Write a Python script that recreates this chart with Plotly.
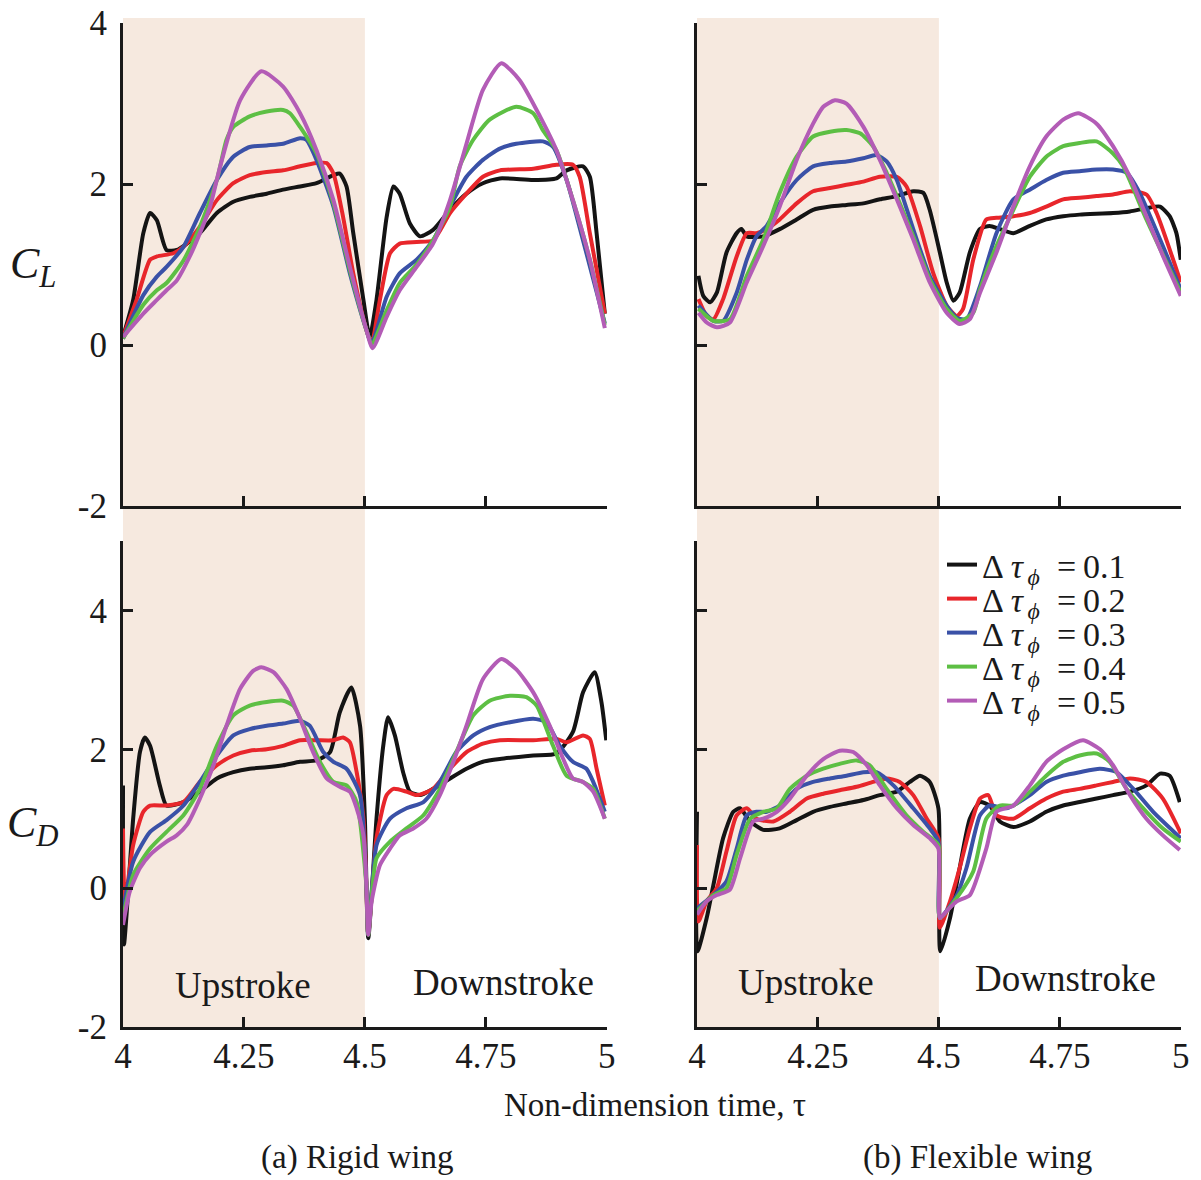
import plotly.graph_objects as go

# ---------------- DATA ----------------
dtau_labels = ["0.1", "0.2", "0.3", "0.4", "0.5"]
x_tickvals = [4, 4.25, 4.5, 4.75, 5]
x_ticktext = ["4", "4.25", "4.5", "4.75", "5"]
y_tickvals = [-2, 0, 2, 4]
y_ticktext = ["-2", "0", "2", "4"]

# (a) Rigid wing, lift coefficient C_L
clr_t1 = [4.0, 4.021, 4.042, 4.056, 4.070, 4.090, 4.111, 4.132, 4.159, 4.194, 4.228, 4.262, 4.297, 4.331, 4.366, 4.400, 4.435, 4.448, 4.462, 4.476, 4.497, 4.510, 4.524, 4.545, 4.559, 4.572, 4.593, 4.614, 4.641, 4.676, 4.710, 4.744, 4.779, 4.848, 4.896, 4.917, 4.951, 4.965, 4.979, 4.996]
clr_v1 = [0.10, 0.56, 1.39, 1.64, 1.55, 1.18, 1.18, 1.26, 1.39, 1.64, 1.78, 1.84, 1.88, 1.93, 1.97, 2.01, 2.11, 2.13, 1.97, 1.39, 0.56, 0.10, 0.56, 1.59, 1.97, 1.88, 1.51, 1.35, 1.43, 1.68, 1.88, 2.01, 2.07, 2.05, 2.07, 2.17, 2.22, 2.09, 1.39, 0.39]
clr_t2 = [4.0, 4.028, 4.056, 4.070, 4.104, 4.125, 4.159, 4.194, 4.228, 4.262, 4.297, 4.331, 4.366, 4.400, 4.421, 4.435, 4.455, 4.476, 4.503, 4.514, 4.531, 4.552, 4.572, 4.607, 4.641, 4.676, 4.710, 4.744, 4.779, 4.848, 4.896, 4.930, 4.944, 4.965, 4.996]
clr_v2 = [0.10, 0.56, 1.06, 1.10, 1.14, 1.22, 1.47, 1.80, 2.01, 2.11, 2.15, 2.17, 2.22, 2.26, 2.26, 2.13, 1.59, 0.89, 0.19, 0.02, 0.56, 1.14, 1.26, 1.28, 1.30, 1.64, 1.88, 2.09, 2.17, 2.19, 2.24, 2.24, 2.09, 1.39, 0.39]
clr_t3 = [4.0, 4.042, 4.070, 4.090, 4.125, 4.159, 4.194, 4.228, 4.262, 4.297, 4.331, 4.366, 4.379, 4.400, 4.435, 4.469, 4.503, 4.514, 4.545, 4.572, 4.607, 4.641, 4.676, 4.710, 4.744, 4.779, 4.813, 4.868, 4.889, 4.917, 4.951, 4.996]
clr_v3 = [0.08, 0.62, 0.85, 0.97, 1.22, 1.64, 2.05, 2.34, 2.46, 2.48, 2.50, 2.57, 2.55, 2.30, 1.72, 0.89, 0.19, 0.02, 0.60, 0.89, 1.06, 1.30, 1.72, 2.09, 2.30, 2.44, 2.50, 2.53, 2.46, 2.05, 1.30, 0.27]
clr_t4 = [4.0, 4.042, 4.070, 4.090, 4.125, 4.159, 4.194, 4.214, 4.228, 4.262, 4.297, 4.331, 4.345, 4.366, 4.400, 4.435, 4.469, 4.503, 4.514, 4.545, 4.572, 4.607, 4.641, 4.676, 4.696, 4.724, 4.758, 4.813, 4.848, 4.868, 4.896, 4.930, 4.965, 4.996]
clr_v4 = [0.08, 0.50, 0.68, 0.77, 1.05, 1.47, 2.05, 2.55, 2.71, 2.84, 2.90, 2.92, 2.88, 2.71, 2.38, 1.76, 0.93, 0.19, 0.01, 0.43, 0.77, 1.00, 1.30, 1.72, 2.22, 2.55, 2.80, 2.96, 2.88, 2.67, 2.42, 1.80, 1.06, 0.25]
clr_t5 = [4.0, 4.042, 4.070, 4.090, 4.111, 4.138, 4.159, 4.180, 4.200, 4.242, 4.286, 4.331, 4.366, 4.400, 4.435, 4.469, 4.503, 4.516, 4.545, 4.572, 4.607, 4.641, 4.676, 4.710, 4.744, 4.782, 4.820, 4.862, 4.896, 4.930, 4.965, 4.996]
clr_v5 = [0.10, 0.39, 0.56, 0.68, 0.80, 1.10, 1.39, 1.72, 2.20, 3.04, 3.40, 3.21, 2.88, 2.42, 1.80, 0.97, 0.19, -0.04, 0.35, 0.68, 0.97, 1.26, 1.80, 2.50, 3.17, 3.50, 3.29, 2.84, 2.42, 1.80, 1.06, 0.21]

# (b) Flexible wing, lift coefficient C_L
clf_t1 = [4.003, 4.013, 4.027, 4.041, 4.061, 4.082, 4.092, 4.103, 4.137, 4.171, 4.206, 4.240, 4.275, 4.309, 4.344, 4.378, 4.413, 4.447, 4.468, 4.481, 4.502, 4.516, 4.530, 4.543, 4.564, 4.585, 4.605, 4.626, 4.654, 4.688, 4.722, 4.757, 4.791, 4.860, 4.895, 4.929, 4.957, 4.977, 4.991, 5.0]
clf_v1 = [0.86, 0.61, 0.53, 0.65, 1.15, 1.39, 1.44, 1.35, 1.35, 1.44, 1.56, 1.68, 1.72, 1.74, 1.76, 1.81, 1.85, 1.91, 1.89, 1.68, 1.15, 0.78, 0.55, 0.65, 1.15, 1.44, 1.48, 1.44, 1.39, 1.48, 1.56, 1.60, 1.62, 1.64, 1.66, 1.70, 1.72, 1.60, 1.39, 1.06]
clf_t2 = [4.003, 4.020, 4.034, 4.054, 4.082, 4.103, 4.123, 4.144, 4.171, 4.206, 4.240, 4.275, 4.309, 4.344, 4.378, 4.413, 4.433, 4.461, 4.488, 4.516, 4.537, 4.550, 4.571, 4.598, 4.619, 4.654, 4.688, 4.722, 4.757, 4.791, 4.826, 4.860, 4.895, 4.929, 4.950, 5.0]
clf_v2 = [0.57, 0.36, 0.32, 0.57, 1.10, 1.39, 1.39, 1.44, 1.56, 1.76, 1.91, 1.95, 1.99, 2.03, 2.09, 2.09, 1.97, 1.48, 0.90, 0.49, 0.36, 0.45, 1.06, 1.56, 1.58, 1.60, 1.64, 1.72, 1.81, 1.83, 1.85, 1.87, 1.91, 1.87, 1.64, 0.78]
clf_t3 = [4.003, 4.034, 4.054, 4.082, 4.103, 4.123, 4.144, 4.171, 4.206, 4.240, 4.275, 4.309, 4.344, 4.371, 4.392, 4.413, 4.447, 4.481, 4.516, 4.537, 4.557, 4.585, 4.619, 4.654, 4.688, 4.722, 4.757, 4.791, 4.826, 4.860, 4.888, 4.915, 4.963, 5.0]
clf_v3 = [0.49, 0.30, 0.30, 0.65, 1.06, 1.35, 1.48, 1.76, 2.05, 2.22, 2.26, 2.28, 2.32, 2.36, 2.28, 2.05, 1.44, 0.86, 0.49, 0.34, 0.32, 0.73, 1.39, 1.81, 1.93, 2.05, 2.14, 2.16, 2.18, 2.18, 2.14, 1.89, 1.23, 0.69]
clf_t4 = [4.003, 4.034, 4.068, 4.103, 4.137, 4.171, 4.206, 4.240, 4.275, 4.309, 4.337, 4.364, 4.392, 4.413, 4.447, 4.481, 4.516, 4.543, 4.571, 4.585, 4.619, 4.654, 4.688, 4.722, 4.757, 4.791, 4.826, 4.860, 4.881, 4.929, 5.0]
clf_v4 = [0.45, 0.30, 0.32, 0.86, 1.31, 1.89, 2.34, 2.59, 2.65, 2.67, 2.63, 2.47, 2.14, 1.85, 1.35, 0.82, 0.45, 0.30, 0.40, 0.69, 1.23, 1.68, 2.09, 2.34, 2.47, 2.51, 2.53, 2.38, 2.22, 1.56, 0.65]
clf_t5 = [4.003, 4.020, 4.041, 4.068, 4.103, 4.137, 4.171, 4.206, 4.240, 4.261, 4.285, 4.309, 4.344, 4.378, 4.413, 4.447, 4.481, 4.516, 4.543, 4.564, 4.585, 4.619, 4.654, 4.688, 4.722, 4.757, 4.788, 4.826, 4.860, 4.895, 4.929, 4.963, 5.0]
clf_v5 = [0.40, 0.28, 0.22, 0.28, 0.78, 1.23, 1.72, 2.30, 2.75, 2.96, 3.04, 3.00, 2.71, 2.30, 1.81, 1.31, 0.78, 0.40, 0.26, 0.32, 0.65, 1.15, 1.72, 2.22, 2.59, 2.80, 2.88, 2.75, 2.47, 2.09, 1.60, 1.11, 0.61]

# (a) Rigid wing, drag coefficient C_D
cdr_t1 = [4.0, 4.002, 4.021, 4.035, 4.045, 4.056, 4.076, 4.090, 4.125, 4.159, 4.194, 4.228, 4.262, 4.297, 4.331, 4.366, 4.400, 4.428, 4.448, 4.472, 4.490, 4.500, 4.507, 4.524, 4.538, 4.548, 4.562, 4.579, 4.593, 4.614, 4.641, 4.676, 4.710, 4.744, 4.779, 4.848, 4.896, 4.930, 4.951, 4.975, 4.989, 4.999]
cdr_v1 = [1.48, -0.81, 1.00, 1.96, 2.17, 2.05, 1.48, 1.19, 1.24, 1.39, 1.58, 1.67, 1.72, 1.74, 1.77, 1.82, 1.84, 1.96, 2.53, 2.89, 2.34, 1.00, -0.72, 1.00, 2.05, 2.46, 2.20, 1.67, 1.39, 1.34, 1.43, 1.58, 1.72, 1.82, 1.86, 1.91, 1.94, 2.25, 2.82, 3.11, 2.68, 2.13]
cdr_t2 = [4.0, 4.004, 4.021, 4.042, 4.056, 4.090, 4.125, 4.159, 4.194, 4.228, 4.262, 4.297, 4.331, 4.366, 4.400, 4.435, 4.455, 4.469, 4.483, 4.497, 4.503, 4.507, 4.524, 4.545, 4.559, 4.586, 4.607, 4.641, 4.676, 4.710, 4.744, 4.779, 4.848, 4.896, 4.917, 4.951, 4.965, 4.979, 4.996]
cdr_v2 = [0.86, -0.19, 0.62, 1.10, 1.19, 1.19, 1.24, 1.53, 1.77, 1.91, 1.98, 2.00, 2.05, 2.13, 2.13, 2.13, 2.17, 2.10, 1.67, 1.00, 0.05, -0.67, 0.72, 1.34, 1.43, 1.39, 1.34, 1.43, 1.72, 1.96, 2.08, 2.13, 2.13, 2.15, 2.10, 2.20, 2.15, 1.72, 1.19]
cdr_t3 = [4.0, 4.021, 4.056, 4.090, 4.125, 4.159, 4.194, 4.228, 4.262, 4.297, 4.331, 4.366, 4.386, 4.414, 4.435, 4.462, 4.490, 4.503, 4.507, 4.524, 4.552, 4.586, 4.621, 4.655, 4.689, 4.724, 4.758, 4.800, 4.848, 4.875, 4.903, 4.930, 4.958, 4.972, 4.996]
cdr_v3 = [-0.33, 0.38, 0.81, 0.98, 1.19, 1.53, 1.91, 2.20, 2.29, 2.34, 2.37, 2.41, 2.34, 1.96, 1.82, 1.72, 1.34, 0.05, -0.67, 0.62, 1.00, 1.15, 1.24, 1.53, 1.96, 2.20, 2.32, 2.39, 2.44, 2.39, 2.05, 1.82, 1.72, 1.53, 1.10]
cdr_t4 = [4.0, 4.021, 4.056, 4.090, 4.125, 4.159, 4.194, 4.228, 4.262, 4.297, 4.331, 4.352, 4.379, 4.407, 4.435, 4.462, 4.483, 4.503, 4.507, 4.524, 4.552, 4.586, 4.621, 4.655, 4.689, 4.724, 4.758, 4.800, 4.834, 4.855, 4.889, 4.917, 4.951, 4.972, 4.996]
cdr_v4 = [-0.43, 0.19, 0.57, 0.81, 1.05, 1.43, 2.05, 2.49, 2.63, 2.68, 2.70, 2.63, 2.25, 1.82, 1.53, 1.48, 1.24, 0.05, -0.67, 0.43, 0.67, 0.86, 1.05, 1.43, 1.96, 2.49, 2.70, 2.77, 2.75, 2.63, 2.05, 1.62, 1.53, 1.43, 1.00]
cdr_t5 = [4.0, 4.014, 4.035, 4.056, 4.090, 4.111, 4.132, 4.159, 4.187, 4.214, 4.242, 4.269, 4.286, 4.311, 4.338, 4.366, 4.393, 4.421, 4.448, 4.469, 4.483, 4.497, 4.503, 4.507, 4.514, 4.531, 4.552, 4.572, 4.600, 4.627, 4.655, 4.683, 4.710, 4.744, 4.782, 4.813, 4.848, 4.882, 4.910, 4.930, 4.951, 4.972, 4.996]
cdr_v5 = [-0.53, -0.05, 0.29, 0.48, 0.67, 0.76, 0.91, 1.29, 1.77, 2.34, 2.87, 3.13, 3.18, 3.11, 2.87, 2.44, 1.96, 1.58, 1.46, 1.39, 1.15, 0.76, 0.05, -0.67, -0.19, 0.33, 0.57, 0.76, 0.86, 1.00, 1.34, 1.82, 2.34, 3.01, 3.30, 3.15, 2.82, 2.34, 1.86, 1.58, 1.53, 1.39, 1.00]

# (b) Flexible wing, drag coefficient C_D
cdf_t1 = [4.0, 4.001, 4.020, 4.034, 4.054, 4.075, 4.089, 4.110, 4.137, 4.171, 4.206, 4.240, 4.275, 4.309, 4.344, 4.378, 4.413, 4.440, 4.461, 4.481, 4.499, 4.503, 4.523, 4.543, 4.564, 4.585, 4.605, 4.626, 4.654, 4.688, 4.722, 4.757, 4.791, 4.826, 4.860, 4.895, 4.929, 4.957, 4.977, 4.998]
cdf_v1 = [1.10, -0.91, -0.43, 0.05, 0.72, 1.10, 1.15, 0.96, 0.84, 0.86, 0.98, 1.10, 1.17, 1.22, 1.27, 1.34, 1.39, 1.53, 1.62, 1.53, 1.15, -0.91, -0.43, 0.29, 1.00, 1.24, 1.19, 0.96, 0.88, 0.96, 1.10, 1.19, 1.24, 1.29, 1.34, 1.39, 1.48, 1.65, 1.62, 1.24]
cdf_t2 = [4.0, 4.003, 4.020, 4.041, 4.061, 4.082, 4.103, 4.123, 4.158, 4.192, 4.227, 4.261, 4.295, 4.330, 4.364, 4.392, 4.419, 4.447, 4.475, 4.499, 4.502, 4.523, 4.543, 4.564, 4.585, 4.602, 4.619, 4.654, 4.688, 4.722, 4.757, 4.791, 4.826, 4.860, 4.895, 4.929, 4.963, 5.0]
cdf_v2 = [0.62, -0.48, -0.19, 0.00, 0.53, 1.05, 1.15, 1.00, 0.96, 1.10, 1.29, 1.36, 1.41, 1.46, 1.53, 1.58, 1.53, 1.34, 1.00, 0.72, -0.57, -0.19, 0.29, 0.86, 1.29, 1.34, 1.05, 1.00, 1.15, 1.29, 1.39, 1.43, 1.48, 1.53, 1.58, 1.53, 1.29, 0.79]
cdf_t3 = [4.0, 4.034, 4.061, 4.082, 4.103, 4.123, 4.144, 4.171, 4.206, 4.240, 4.275, 4.309, 4.344, 4.371, 4.406, 4.447, 4.481, 4.499, 4.502, 4.537, 4.557, 4.585, 4.605, 4.640, 4.688, 4.722, 4.757, 4.791, 4.833, 4.867, 4.902, 4.943, 5.0]
cdf_v3 = [-0.29, -0.10, 0.10, 0.57, 1.05, 1.10, 1.10, 1.19, 1.43, 1.53, 1.58, 1.62, 1.67, 1.67, 1.48, 1.15, 0.86, 0.67, -0.43, -0.10, 0.29, 1.05, 1.19, 1.15, 1.34, 1.53, 1.62, 1.67, 1.72, 1.67, 1.43, 1.10, 0.72]
cdf_t4 = [4.0, 4.034, 4.061, 4.082, 4.110, 4.137, 4.165, 4.192, 4.227, 4.261, 4.295, 4.330, 4.357, 4.392, 4.433, 4.468, 4.499, 4.502, 4.537, 4.571, 4.598, 4.626, 4.654, 4.688, 4.722, 4.757, 4.791, 4.826, 4.853, 4.888, 4.929, 4.963, 5.0]
cdf_v4 = [-0.33, -0.10, 0.00, 0.48, 1.00, 1.10, 1.15, 1.43, 1.62, 1.72, 1.79, 1.84, 1.77, 1.43, 1.05, 0.81, 0.62, -0.43, -0.14, 0.24, 1.00, 1.19, 1.19, 1.39, 1.62, 1.82, 1.91, 1.94, 1.82, 1.43, 1.10, 0.86, 0.67]
cdf_t5 = [4.0, 4.020, 4.041, 4.068, 4.089, 4.116, 4.137, 4.165, 4.192, 4.227, 4.261, 4.295, 4.323, 4.351, 4.378, 4.413, 4.447, 4.481, 4.499, 4.502, 4.516, 4.537, 4.564, 4.598, 4.619, 4.654, 4.688, 4.722, 4.757, 4.798, 4.833, 4.860, 4.895, 4.929, 4.963, 4.998]
cdf_v5 = [-0.38, -0.19, -0.10, -0.02, 0.43, 0.96, 1.00, 1.10, 1.29, 1.62, 1.86, 1.98, 1.96, 1.77, 1.48, 1.15, 0.91, 0.72, 0.57, -0.43, -0.33, -0.19, -0.10, 0.57, 1.10, 1.19, 1.48, 1.82, 2.00, 2.13, 2.00, 1.77, 1.34, 1.00, 0.76, 0.55]

# ---------------- STYLE ----------------
OFF = 8                      # page body margin of the browser
W, H = 1193, 1172            # figure size so that it fills the 1201x1180 window
FONT = "Liberation Serif"
TXT = "#1a1a1a"
colors = ["#141414", "#e8262b", "#3a51a7", "#5dbf44", "#b35cb6"]
shade = "#f6e9df"

def px(v):  # window pixel -> paper fraction
    return (v - OFF) / W

def py(v):  # window pixel (from top) -> paper fraction
    return 1 - (v - OFF) / H

panels = [
    ("x", "y", [(clr_t1, clr_v1), (clr_t2, clr_v2), (clr_t3, clr_v3), (clr_t4, clr_v4), (clr_t5, clr_v5)]),
    ("x2", "y2", [(clf_t1, clf_v1), (clf_t2, clf_v2), (clf_t3, clf_v3), (clf_t4, clf_v4), (clf_t5, clf_v5)]),
    ("x3", "y3", [(cdr_t1, cdr_v1), (cdr_t2, cdr_v2), (cdr_t3, cdr_v3), (cdr_t4, cdr_v4), (cdr_t5, cdr_v5)]),
    ("x4", "y4", [(cdf_t1, cdf_v1), (cdf_t2, cdf_v2), (cdf_t3, cdf_v3), (cdf_t4, cdf_v4), (cdf_t5, cdf_v5)]),
]
legend_ids = ["legend", "legend2", "legend3", "legend4", "legend5"]

fig = go.Figure()
for pi, (xa, ya, series) in enumerate(panels):
    for si, (t, v) in enumerate(series):
        fig.add_trace(go.Scatter(
            x=t, y=v, xaxis=xa, yaxis=ya, mode="lines",
            line=dict(color=colors[si], width=4, shape="spline", smoothing=0.6),
            name="Δ\u2009<i>τ</i><sub>\u2009<i>ϕ</i></sub>\u00a0\u00a0=\u2009" + dtau_labels[si],
            legend=legend_ids[si],
            showlegend=(pi == 0),
        ))

left_dom = [px(123), px(607)]
right_dom = [px(697), px(1181)]
top_dom = [py(506), py(22.8)]
bot_dom = [py(1027), py(541)]

axis_common = dict(
    showline=True, linecolor=TXT, linewidth=3, mirror=False,
    ticks="inside", ticklen=10, tickwidth=3, tickcolor=TXT,
    showgrid=False, zeroline=False, automargin=False,
    ticklabeloverflow="allow",
    tickfont=dict(family=FONT, size=35, color=TXT),
)

def xax(dom, anchor, labels):
    return dict(axis_common, domain=dom, anchor=anchor, range=[4, 5.0005],
                tickvals=x_tickvals, ticktext=x_ticktext,
                showticklabels=labels, ticklabelstandoff=-4)

def yax(dom, anchor, rng, labels):
    return dict(axis_common, domain=dom, anchor=anchor, range=rng,
                tickvals=y_tickvals, ticktext=y_ticktext,
                showticklabels=labels, ticklabelstandoff=6)

legend_y = [565, 599, 633, 667, 701]
legend_layout = {}
for li, lid in enumerate(legend_ids):
    legend_layout[lid] = dict(
        x=px(942), y=py(legend_y[li]), xanchor="left", yanchor="middle",
        bgcolor="rgba(255,255,255,0)", borderwidth=0,
        font=dict(family=FONT, size=34, color=TXT),
        itemwidth=30, tracegroupgap=0,
    )

fig.update_layout(
    template="none",
    width=W, height=H, autosize=False,
    margin=dict(l=0, r=0, t=0, b=0, pad=0, autoexpand=False),
    paper_bgcolor="white", plot_bgcolor="rgba(0,0,0,0)",
    font=dict(family=FONT, color=TXT),
    xaxis=xax(left_dom, "y", False),
    yaxis=yax(top_dom, "x", [-2, 4.003], True),
    xaxis2=xax(right_dom, "y2", False),
    yaxis2=yax(top_dom, "x2", [-2, 4.003], False),
    xaxis3=xax(left_dom, "y3", True),
    yaxis3=yax(bot_dom, "x3", [-2, 5], True),
    xaxis4=xax(right_dom, "y4", True),
    yaxis4=yax(bot_dom, "x4", [-2, 5], False),
    showlegend=True,
    **legend_layout,
)

# shaded upstroke half-cycle spanning both rows
for xr in ["x", "x2"]:
    fig.add_shape(type="rect", xref=xr, yref="paper", x0=4, x1=4.5,
                  y0=py(1027), y1=py(18), fillcolor=shade,
                  line=dict(width=0), layer="below")

def ann(text, x, y, size):
    fig.add_annotation(text=text, x=px(x), y=py(y), xref="paper", yref="paper",
                       showarrow=False, font=dict(family=FONT, size=size, color=TXT),
                       xanchor="center", yanchor="middle")

ann("<i>C</i><sub><i>L</i></sub>", 33, 266, 44)
ann("<i>C</i><sub><i>D</i></sub>", 33, 826, 44)
ann("Upstroke", 243, 985, 37)
ann("Downstroke", 503, 982, 37)
ann("Upstroke", 806, 982, 37)
ann("Downstroke", 1065, 978, 37)
ann("Non-dimension time, τ", 655, 1105, 33)
ann("(a) Rigid wing", 357, 1157, 33)
ann("(b) Flexible wing", 977, 1157, 33)

fig.write_html("out.html")
